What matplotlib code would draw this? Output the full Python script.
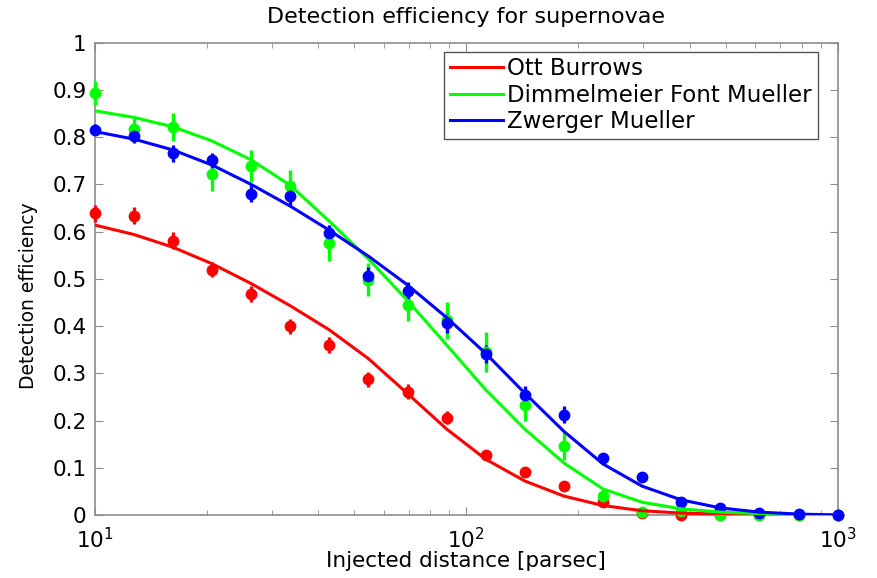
import numpy as np
import matplotlib
matplotlib.use("Agg")
import matplotlib.pyplot as plt
from matplotlib.ticker import LogLocator, FixedLocator

# injected distances [parsec]
distance = [10, 12.74, 16.24, 20.69, 26.37, 33.6, 42.81, 54.56, 69.52, 88.59,
            112.9, 143.8, 183.3, 233.6, 297.6, 379.3, 483.3, 615.8, 784.8, 1000]

# measured efficiencies (points) and their errors
ott_eff = [0.639, 0.634, 0.581, 0.519, 0.468, 0.400, 0.360, 0.287, 0.261, 0.206,
           0.127, 0.091, 0.061, 0.028, 0.004, 0.0, 0.0, 0.0, 0.0, 0.0]
ott_err = [0.018, 0.018, 0.018, 0.016, 0.016, 0.016, 0.016, 0.015, 0.016, 0.014,
           0.010, 0.006, 0.004, 0.004, 0.002, 0.002, 0.0, 0.0, 0.0, 0.0]
dfm_eff = [0.893, 0.818, 0.821, 0.722, 0.739, 0.696, 0.576, 0.498, 0.445, 0.412,
           0.345, 0.233, 0.146, 0.040, 0.006, 0.008, 0.0, 0.0, 0.0, 0.0]
dfm_err = [0.025, 0.022, 0.030, 0.035, 0.033, 0.035, 0.038, 0.035, 0.035, 0.040,
           0.042, 0.035, 0.030, 0.015, 0.005, 0.004, 0.002, 0.001, 0.0, 0.0]
zm_eff = [0.816, 0.802, 0.766, 0.751, 0.680, 0.676, 0.598, 0.506, 0.475, 0.406,
          0.341, 0.254, 0.212, 0.120, 0.081, 0.027, 0.014, 0.004, 0.002, 0.001]
zm_err = [0.012, 0.015, 0.018, 0.016, 0.018, 0.020, 0.016, 0.020, 0.018, 0.020,
          0.020, 0.020, 0.018, 0.012, 0.010, 0.005, 0.004, 0.002, 0.001, 0.0]

# fitted curves read at the same distances
ott_fit = [0.614, 0.594, 0.567, 0.532, 0.490, 0.443, 0.392, 0.331, 0.257, 0.182,
           0.118, 0.072, 0.040, 0.020, 0.009, 0.004, 0.002, 0.001, 0.0, 0.0]
dfm_fit = [0.856, 0.842, 0.822, 0.792, 0.752, 0.698, 0.622, 0.542, 0.454, 0.360,
           0.265, 0.182, 0.110, 0.055, 0.027, 0.013, 0.006, 0.003, 0.001, 0.0]
zm_fit = [0.812, 0.796, 0.773, 0.741, 0.700, 0.654, 0.603, 0.548, 0.487, 0.418,
          0.342, 0.258, 0.177, 0.108, 0.061, 0.032, 0.015, 0.006, 0.002, 0.0]

labels = ["Ott Burrows", "Dimmelmeier Font Mueller", "Zwerger Mueller"]
colors = ["#ff0000", "#00ff00", "#0000ff"]

plt.rcParams['font.family'] = ['DejaVu Sans']

fig = plt.figure(figsize=(8.78, 5.78), dpi=100)
ax = fig.add_axes([0.108, 0.109, 0.846, 0.817])

series = [(ott_eff, ott_err, ott_fit), (dfm_eff, dfm_err, dfm_fit), (zm_eff, zm_err, zm_fit)]
for (eff, err, fit), col, lab in zip(series, colors, labels):
    ax.errorbar(distance, eff, yerr=err, fmt="o", color=col, markersize=7.5,
                elinewidth=2.4, capsize=0, clip_on=False, zorder=3)
    ax.plot(distance, fit, "-", color=col, linewidth=2.2, label=lab, zorder=4)

ax.set_xscale("log")
ax.set_xlim(10, 1000)
ax.set_ylim(0, 1)
ax.yaxis.set_major_locator(FixedLocator(np.arange(0, 1.01, 0.1)))
ax.set_yticklabels(["0", "0.1", "0.2", "0.3", "0.4", "0.5", "0.6", "0.7", "0.8", "0.9", "1"])
ax.xaxis.set_major_locator(LogLocator(base=10, numticks=5))
ax.xaxis.set_minor_locator(LogLocator(base=10, subs=np.arange(2, 10), numticks=20))

ax.tick_params(which="both", direction="in", top=True, right=True,
               color="#8c8c8c", labelsize=15.5)
ax.tick_params(axis="y", pad=6)
ax.tick_params(axis="x", pad=9)
ax.tick_params(which="major", length=6)
ax.tick_params(which="minor", length=3.5)
for sp in ax.spines.values():
    sp.set_color("#8c8c8c")
    sp.set_linewidth(1.2)

ax.set_title("Detection efficiency for supernovae", fontsize=16, pad=14)
ax.set_xlabel("Injected distance [parsec]", fontsize=15.5, labelpad=-1)
ax.set_ylabel("Detection efficiency", fontsize=13.5)
ax.yaxis.set_label_coords(-0.076, 0.465)

leg = ax.legend(loc="upper right", bbox_to_anchor=(0.973, 0.981), borderaxespad=0,
                fontsize=16.5, fancybox=False, framealpha=1, handlelength=2.3,
                handletextpad=0.2, labelspacing=0.15, borderpad=0.25)
leg.get_frame().set_edgecolor("#555555")
leg.get_frame().set_linewidth(1.0)

plt.savefig("out.png", dpi=100)
plt.close()
